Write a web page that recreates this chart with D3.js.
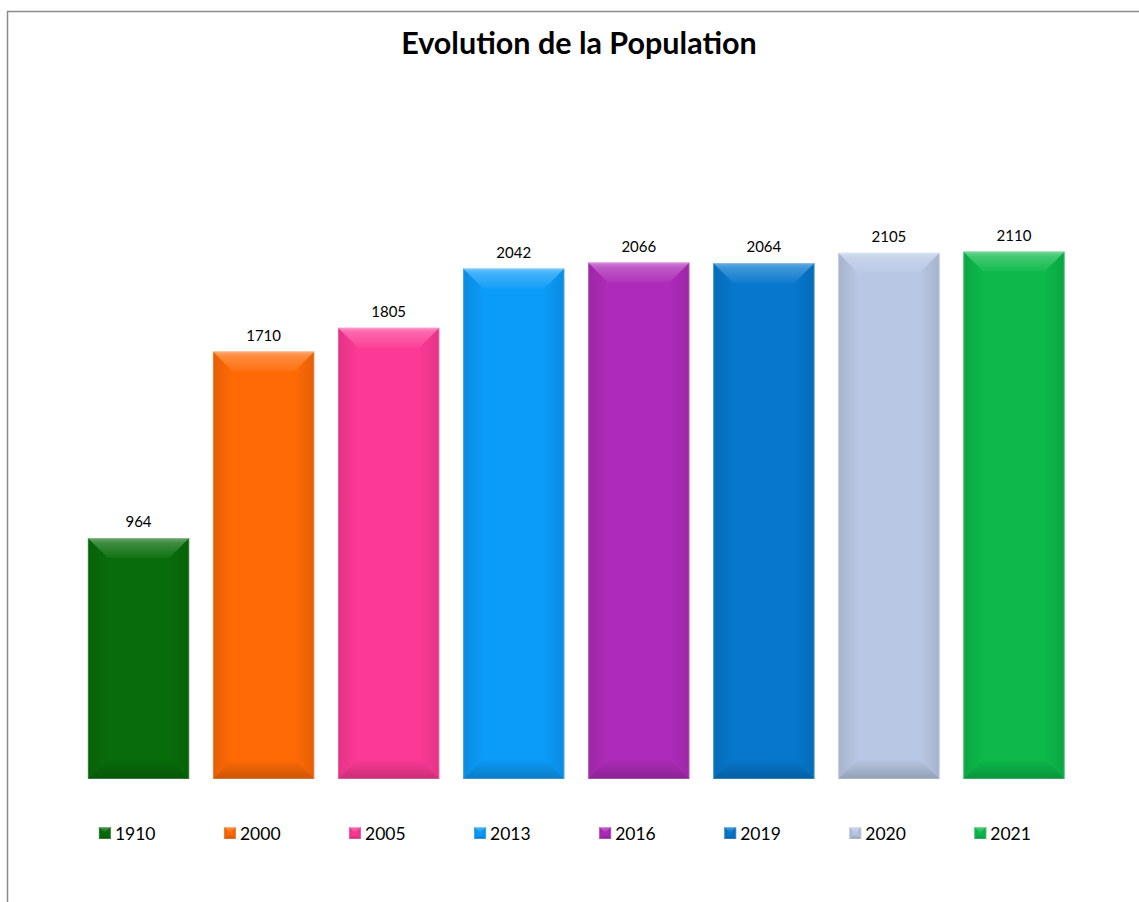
<!doctype html>
<html>
  <head>
    <meta charset="utf-8">
    <script src="https://cdnjs.cloudflare.com/ajax/libs/d3/7.8.5/d3.min.js"></script>
    <style>
      body { margin: 0; background: #fff; }
      svg { display: block; }
    </style>
  </head>
  <body>
    <svg></svg>
    <script>
      var years = ["1910", "2000", "2005", "2013", "2016", "2019", "2020", "2021"];
      var population = [964, 1710, 1805, 2042, 2066, 2064, 2105, 2110];
      var colors = ["#086c0a", "#ff6a06", "#fc3995", "#0b9bf8", "#ad2bb8", "#0677cc", "#b8c7e4", "#0cb94a"];

      var width = 1139, height = 902;
      var svg = d3.select("svg").attr("width", width).attr("height", height);
      var font = "Lato, 'Open Sans', sans-serif";

      // cadre
      svg.append("rect")
          .attr("x", 7.5).attr("y", 11.5)
          .attr("width", 1140).attr("height", 900)
          .attr("fill", "none").attr("stroke", "#8a8a8a").attr("stroke-width", 1.5);

      svg.append("text")
          .attr("x", 579).attr("y", 54)
          .attr("text-anchor", "middle")
          .style("font-family", font).style("font-weight", "bold").style("font-size", "30.5px")
          .text("Evolution de la Population");

      var x = d3.scaleBand().domain(years).range([76, 1076.5]).paddingInner(0.19).paddingOuter(0.095);
      var y = d3.scaleLinear().domain([0, 2500]).range([779, 154]);

      var defs = svg.append("defs");
      function grad(id, x2, y2, stops) {
        var g = defs.append("linearGradient").attr("id", id)
            .attr("x1", 0).attr("y1", 0).attr("x2", x2).attr("y2", y2);
        stops.forEach(s => g.append("stop").attr("offset", s[0]).attr("stop-color", s[1]).attr("stop-opacity", s[2]));
      }
      grad("gTop", 0, 1, [[0, "#fff", 0.4], [0.25, "#fff", 0.22], [1, "#fff", 0.04]]);
      grad("gBot", 0, 1, [[0, "#000", 0.0], [1, "#000", 0.2]]);
      grad("gLeft", 1, 0, [[0, "#000", 0.1], [1, "#000", 0.0]]);
      grad("gRight", 1, 0, [[0, "#000", 0.0], [1, "#000", 0.1]]);

      // bevel des barres
      function bevel(g, x0, y0, w, h, b, col) {
        var x1 = x0 + w, y1 = y0 + h;
        g.append("rect").attr("x", x0).attr("y", y0).attr("width", w).attr("height", h).attr("fill", col);
        var faces = [
          {pts: [[x0, y0], [x0 + b, y0 + b], [x0 + b, y1 - b], [x0, y1]], fill: "url(#gLeft)"},
          {pts: [[x1, y0], [x1, y1], [x1 - b, y1 - b], [x1 - b, y0 + b]], fill: "url(#gRight)"},
          {pts: [[x0, y0], [x1, y0], [x1 - b, y0 + b], [x0 + b, y0 + b]], fill: "url(#gTop)"},
          {pts: [[x0, y1], [x0 + b, y1 - b], [x1 - b, y1 - b], [x1, y1]], fill: "url(#gBot)"}
        ];
        g.selectAll(null).data(faces).enter().append("polygon")
            .attr("points", d => d.pts.map(p => p.join(",")).join(" "))
            .attr("fill", d => d.fill);
        g.append("rect").attr("x", x0 + 0.5).attr("y", y0 + 0.5).attr("width", w - 1).attr("height", h - 1)
            .attr("fill", "none").attr("stroke", "rgba(255,255,255,0.2)").attr("stroke-width", 1);
      }

      var bars = svg.selectAll("g.bar").data(years).enter().append("g").attr("class", "bar");
      bars.each(function(d, i) {
        bevel(d3.select(this), x(d), y(population[i]), x.bandwidth(), y(0) - y(population[i]), 20, colors[i]);
      });

      svg.selectAll("text.val").data(years).enter().append("text")
          .attr("class", "val")
          .attr("x", d => x(d) + x.bandwidth() / 2)
          .attr("y", (d, i) => y(population[i]) - 11)
          .attr("text-anchor", "middle")
          .style("font-family", font).style("font-size", "15px")
          .text((d, i) => population[i]);

      // légende
      var legend = svg.selectAll("g.leg").data(years).enter().append("g").attr("class", "leg")
          .attr("transform", d => "translate(" + (x(d) + 11) + ",827)");
      legend.each(function(d, i) {
        bevel(d3.select(this), 0, 0, 12, 12, 5, colors[i]);
      });
      legend.append("text")
          .attr("x", 16).attr("y", 12.5)
          .style("font-family", font).style("font-size", "17.5px")
          .text(d => d);
    </script>
  </body>
</html>
